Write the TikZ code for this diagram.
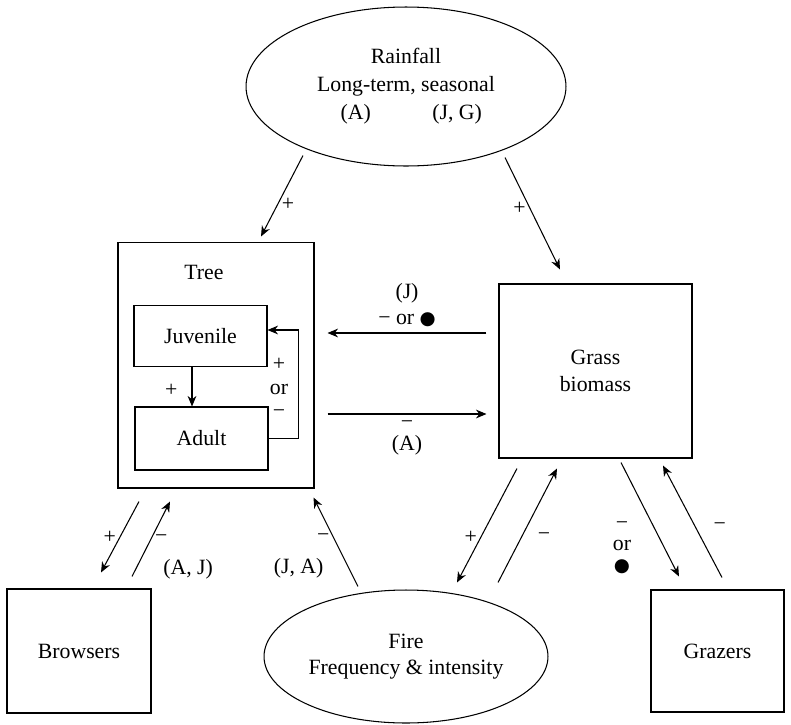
\documentclass[tikz,border=0pt]{standalone}
\usepackage{fontspec}
\setmainfont{Liberation Serif}
\newfontfamily\symfont{DejaVu Sans}
\usetikzlibrary{shapes.geometric,calc,arrows.meta}
\newcommand{\bdot}{{\symfont\fontsize{10.5}{12}\selectfont ●}}
\begin{document}
\begin{tikzpicture}[x=0.02cm, y=-0.02cm, >={Stealth[length=6pt,width=5pt]}, line width=0.6pt,
  every node/.style={font=\fontsize{12.4}{15}\selectfont},
  blk/.style={draw, inner sep=0pt, align=center},
  oval/.style={draw, ellipse, inner sep=0pt, align=center},
  sign/.style={inner sep=2pt}]
\useasboundingbox (0,0) rectangle (791,724);

\node[oval, minimum width=6.4cm, minimum height=3.18cm, font=\fontsize{12.4}{16}\selectfont] (rain) at (406,86.5) {Rainfall\\Long-term, seasonal\\\hspace*{6pt}(A)\hspace{35pt}(J, G)};

\node[blk, minimum width=3.92cm, minimum height=4.92cm] (tree) at (216,365) {};
\node (treelbl) at (204,272) {Tree};
\node[blk, minimum width=2.66cm, minimum height=1.22cm] (juv) at (200.5,336) {Juvenile};
\node[blk, minimum width=2.66cm, minimum height=1.26cm] (adult) at (201.5,438.5) {Adult};
\node[blk, minimum width=3.86cm, minimum height=3.48cm] (grass) at (595.5,371) {Grass\\biomass};

\node[blk, minimum width=2.88cm, minimum height=2.48cm] (browsers) at (79,651) {Browsers};
\node[oval, minimum width=5.68cm, minimum height=2.66cm] (fire) at (406,656.5) {Fire\\Frequency \& intensity};
\node[blk, minimum width=2.66cm, minimum height=2.44cm] (grazers) at (717.5,651) {Grazers};

% rainfall
\draw[->] ($(rain.south)+(-103,-11)$) -- node[sign, pos=.6, right] {+} ($(tree.north)+(45,-5)$);
\draw[->] ($(rain.south)+(99,-9)$) -- node[sign, pos=.45, left] {+} ($(grass.north)+(-35.5,-14)$);

% inside the tree
\draw[->] ($(juv.south)+(-8.5,0)$) -- node[sign, pos=.6, left=6pt] {+} ($(adult.north)+(-9.5,0)$);
\draw[->] (adult.east) -- ++(30,0) |- ($(juv.east)+(0,-6)$);
\node[align=center, font=\fontsize{12.4}{13.3}\selectfont] (fbsign) at (279,388) {+\\or\\−};

% tree and grass
\draw[->] ($(grass.west)+(-12,-38)$) -- node[midway, above, align=center] {(J)\\− or \bdot} ($(tree.east)+(13,-32)$);
\draw[->] ($(tree.east)+(13,49)$) -- node[midway, below, align=center, font=\fontsize{12.4}{12.5}\selectfont] {−\\(A)} ($(grass.west)+(-12,43)$);

% browsers
\draw[->] ($(tree.south)+(-77,13)$) -- node[sign, pos=.5, left] {+} ($(browsers.north)+(22,-16)$);
\draw[->] ($(browsers.north)+(53,-12)$) -- node[sign, pos=.5, right] {−} node[pos=.1, right=12pt] {(A, J)} ($(tree.south)+(-46,13)$);

% fire
\draw[->] ($(fire.north)+(-48,-3)$) -- node[sign, pos=.55, left] {−} node[pos=.2, left=11pt] {(J, A)} ($(tree.south east)+(-1,9)$);
\draw[->] ($(grass.south)+(-78.5,10)$) -- node[sign, pos=.6, left] {+} ($(fire.north)+(51,-7)$);
\draw[->] ($(fire.north)+(92,-7)$) -- node[sign, pos=.4, right=7pt] {−} ($(grass.south)+(-38.5,10)$);

% grazers
\draw[->] ($(grass.south)+(25.5,4)$) -- ($(grazers.north)+(-38.5,-13)$);
\node[align=center, font=\fontsize{12.4}{12}\selectfont] (gzsign) at (622,548) {−\\or\\\bdot};
\draw[->] ($(grazers.north)+(4.5,-12)$) -- node[sign, pos=.45, right=8pt] {−} ($(grass.south)+(67.5,7)$);
\end{tikzpicture}
\end{document}
